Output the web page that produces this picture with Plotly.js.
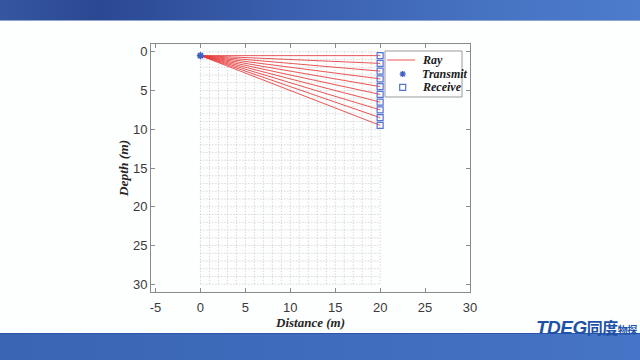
<!DOCTYPE html>
<html><head><meta charset="utf-8">
<script src="https://cdn.plot.ly/plotly-3.0.1.min.js"></script>
<style>
html,body{margin:0;padding:0;width:640px;height:360px;overflow:hidden;background:#fdfefe;}
#topband{position:absolute;left:0;top:0;width:640px;height:20px;background:linear-gradient(90deg,#3556a0 0%,#2b4893 15%,#3a5fae 45%,#4672c2 75%,#4d7ccc 100%);border-bottom:1px solid #8fa6cf;}
#botband{position:absolute;left:0;top:333px;width:640px;height:27px;background:linear-gradient(90deg,#3a64b4 0%,#3f6cbd 50%,#4674c6 100%);border-top:1px solid #2d55a5;}
#logo{position:absolute;left:536px;top:315px;font-family:"Liberation Sans",Arial,sans-serif;font-weight:bold;font-style:italic;color:#1d52a8;font-size:19px;letter-spacing:-0.5px;white-space:nowrap;}
#logo .cn{font-family:"Noto Sans CJK SC";font-style:normal;font-size:16px;font-weight:bold;}
#logo .sm{font-family:"Noto Sans CJK SC";font-style:normal;font-size:10px;font-weight:bold;}
#plot{position:absolute;left:0;top:0;width:640px;height:360px;}
</style></head>
<body>
<div id="topband"></div>
<div id="botband"></div>
<div id="logo">TDEG<span class="cn">同度</span><span class="sm">物探</span></div>
<div id="plot"></div>
<script>
// Grid node positions (m)
const gridX = [0,1,2,3,4,5,6,7,8,9,10,11,12,13,14,15,16,17,18,19,20];
const gridY = [0,1,2,3,4,5,6,7,8,9,10,11,12,13,14,15,16,17,18,19,20,21,22,23,24,25,26,27,28,29,30];
// Transmitter
const txX = [0];
const txY = [0.5];
// Receivers
const rxX = [20,20,20,20,20,20,20,20,20,20];
const rxY = [0.5,1.5,2.5,3.5,4.5,5.5,6.5,7.5,8.5,9.5];
// Tick labels
const xTicks = [-5,0,5,10,15,20,25,30];
const xTickText = ['-5','0','5','10','15','20','25','30'];
const yTicks = [0,5,10,15,20,25,30];
const legendNames = ['Ray','Transmit','Receive'];

// grid trace built from arrays
const gx = [], gy = [];
const xmin = gridX[0], xmax = gridX[gridX.length-1];
const ymin = gridY[0], ymax = gridY[gridY.length-1];
gridX.forEach(x => { gx.push(x, x, null); gy.push(ymin, ymax, null); });
gridY.forEach(y => { gx.push(xmin, xmax, null); gy.push(y, y, null); });

// rays
const rayX = [], rayY = [];
rxX.forEach((x, i) => { rayX.push(txX[0], x, null); rayY.push(txY[0], rxY[i], null); });

const serif = "Liberation Serif, Times New Roman, serif";
const rayColor = 'rgba(232,55,55,0.85)';
const txColor = '#3d5fc4';
const rxColor = '#5573cf';
const traces = [
  {x: gx, y: gy, mode: 'lines', line: {color: 'rgba(190,175,180,0.7)', width: 1, dash: '1px,2px'}, showlegend: false, hoverinfo: 'skip'},
  {x: rayX, y: rayY, mode: 'lines', name: 'Ray', line: {color: rayColor, width: 1}, showlegend: false},
  {x: txX, y: txY, mode: 'markers', name: 'Transmit', marker: {symbol: 'asterisk-open', size: 6, color: txColor, line: {color: txColor, width: 1.6}}, showlegend: false},
  {x: rxX, y: rxY, mode: 'markers', name: 'Receive', marker: {symbol: 'square-open', size: 6, color: rxColor, line: {color: rxColor, width: 1.2}}, showlegend: false}
];

// custom compact legend (paper coordinates of plot area 319x248 px)
const W = 319, H = 248;
const px = v => v / W, py = v => v / H;
const lgL = 0.7335, lgR = 0.975, lgT = 0.9718, lgB = 0.7863;
const rowY = [0.9355, 0.879, 0.8254];
const symX = 0.789, textX = 0.842;
const shapes = [
  {type: 'rect', xref: 'paper', yref: 'paper', x0: lgL, x1: lgR, y0: lgB, y1: lgT, fillcolor: '#ffffff', line: {color: '#9a9a9a', width: 1}, layer: 'above'},
  {type: 'line', xref: 'paper', yref: 'paper', x0: 0.74, x1: 0.828, y0: rowY[0], y1: rowY[0], line: {color: rayColor, width: 1}, layer: 'above'},
  {type: 'rect', xref: 'paper', yref: 'paper', x0: symX - px(3), x1: symX + px(3), y0: rowY[2] - py(3), y1: rowY[2] + py(3), line: {color: rxColor, width: 1.2}, layer: 'above'}
];
// asterisk glyph for Transmit
[[3,0],[0,3],[2.2,2.2],[2.2,-2.2]].forEach(([dx, dy]) => {
  shapes.push({type: 'line', xref: 'paper', yref: 'paper', x0: symX - px(dx), x1: symX + px(dx), y0: rowY[1] - py(dy), y1: rowY[1] + py(dy), line: {color: txColor, width: 1.4}, layer: 'above'});
});
const annotations = legendNames.map((n, i) => ({
  xref: 'paper', yref: 'paper', x: textX, y: rowY[i], xanchor: 'left', yanchor: 'middle',
  text: n, showarrow: false, font: {family: serif, size: 12, color: '#1a1a1a', weight: 'bold', style: 'italic'}
}));

const layout = {
  width: 640, height: 360,
  margin: {l: 151, r: 170, t: 44, b: 68},
  paper_bgcolor: 'rgba(0,0,0,0)',
  plot_bgcolor: 'rgba(255,255,255,0)',
  showlegend: false,
  shapes: shapes,
  annotations: annotations,
  xaxis: {
    range: [-5.5, 30], tickvals: xTicks, ticktext: xTickText,
    ticks: 'inside', ticklen: 4, tickcolor: '#8a8a8a',
    showline: true, linecolor: '#8a8a8a', linewidth: 1, mirror: 'ticks',
    showgrid: false, zeroline: false, ticklabelstandoff: 3,
    tickfont: {family: 'Liberation Sans, Arial, sans-serif', size: 13, color: '#3a3a3a'},
    title: {text: 'Distance (m)', font: {family: serif, size: 13, color: '#262626', weight: 'bold', style: 'italic'}, standoff: 4}
  },
  yaxis: {
    range: [31, -1], tickvals: yTicks,
    ticks: 'inside', ticklen: 4, tickcolor: '#8a8a8a',
    showline: true, linecolor: '#8a8a8a', linewidth: 1, mirror: 'ticks',
    showgrid: false, zeroline: false,
    tickfont: {family: 'Liberation Sans, Arial, sans-serif', size: 13, color: '#3a3a3a'},
    title: {text: 'Depth (m)', font: {family: serif, size: 13.5, color: '#262626', weight: 'bold', style: 'italic'}, standoff: 1}
  }
};
Plotly.newPlot('plot', traces, layout, {displayModeBar: false, staticPlot: true});
</script>
</body></html>
